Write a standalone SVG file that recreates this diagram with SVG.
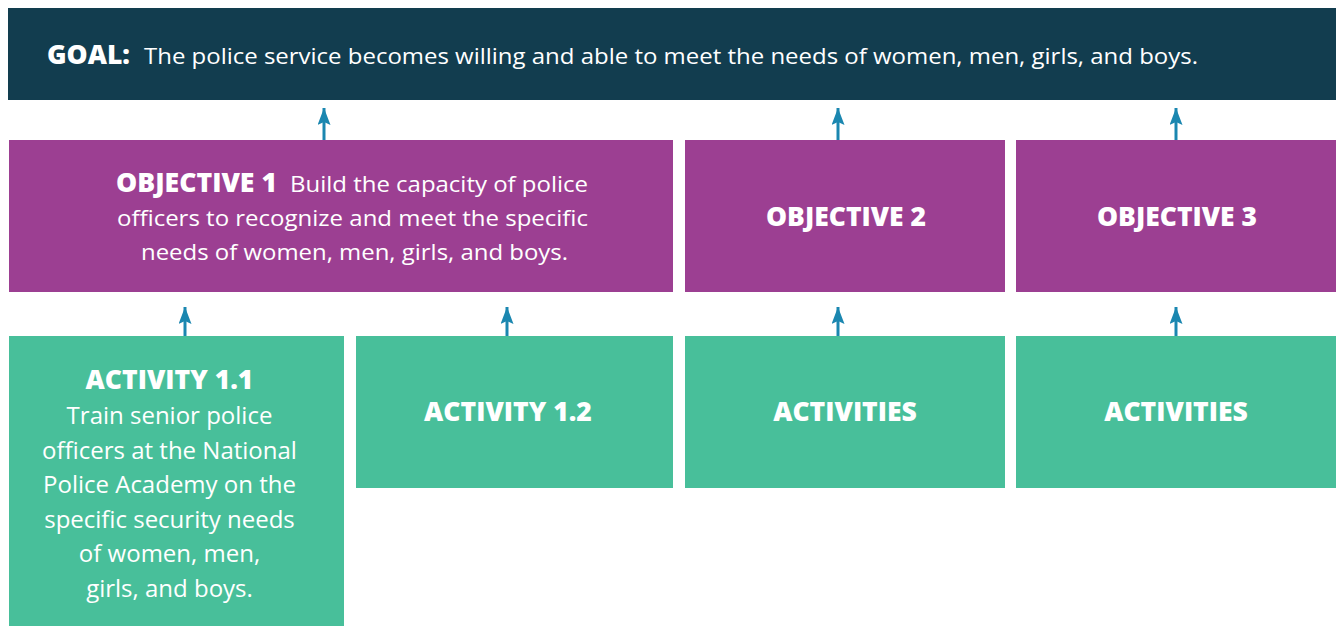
<svg xmlns="http://www.w3.org/2000/svg" width="1337" height="626" viewBox="0 0 1337 626">
<defs>
<marker id="ah" viewBox="0 0 17 13" refX="17" refY="6.5" markerWidth="17" markerHeight="13" markerUnits="userSpaceOnUse" orient="auto">
<path d="M17 6.5 L0 0 L3 6.5 L0 13 Z" fill="#1B87B0"/>
</marker>
<style>
text{font-family:"Open Sans","Liberation Sans",sans-serif;fill:#fff}
.goal{fill:#123D4F}
.obj{fill:#9C3F92}
.act{fill:#48BF9A}
.r{font-weight:400;font-size:22.5px}
.ra{font-weight:400;font-size:24px}
.h{font-size:27px;font-weight:800}
.ha{font-size:26.5px;font-weight:800}
.c{text-anchor:middle}
.arr{stroke:#1B87B0;stroke-width:3;fill:none}
</style>
</defs>
<rect width="1337" height="626" fill="#fff"/>
<g id="goal">
<rect class="goal" x="8" y="8" width="1328" height="92"/>
<text x="47" y="64"><tspan class="h" textLength="83" lengthAdjust="spacingAndGlyphs">GOAL:</tspan><tspan class="r" x="144" textLength="1054" lengthAdjust="spacingAndGlyphs">The police service becomes willing and able to meet the needs of women, men, girls, and boys.</tspan></text>
</g>
<g id="objective1">
<rect class="obj" x="9" y="140" width="664" height="152"/>
<text x="116" y="192"><tspan class="h" textLength="161" lengthAdjust="spacingAndGlyphs">OBJECTIVE 1</tspan><tspan class="r" x="290" textLength="298" lengthAdjust="spacingAndGlyphs">Build the capacity of police</tspan></text>
<text class="r" x="117" y="226" textLength="471" lengthAdjust="spacingAndGlyphs">officers to recognize and meet the specific</text>
<text class="r" x="141" y="260" textLength="427" lengthAdjust="spacingAndGlyphs">needs of women, men, girls, and boys.</text>
</g>
<g id="objective2">
<rect class="obj" x="685" y="140" width="320" height="152"/>
<text class="h" x="766" y="226" textLength="160" lengthAdjust="spacingAndGlyphs">OBJECTIVE 2</text>
</g>
<g id="objective3">
<rect class="obj" x="1016" y="140" width="320" height="152"/>
<text class="h" x="1097" y="226" textLength="160" lengthAdjust="spacingAndGlyphs">OBJECTIVE 3</text>
</g>
<g id="activity11">
<rect class="act" x="9" y="336" width="335" height="290"/>
<text class="ha c" x="169.5" y="389">ACTIVITY 1.1</text>
<text class="ra c" x="169.5" y="424">Train senior police</text>
<text class="ra c" x="169.5" y="459">officers at the National</text>
<text class="ra c" x="169.5" y="493">Police Academy on the</text>
<text class="ra c" x="169.5" y="528">specific security needs</text>
<text class="ra c" x="169.5" y="562">of women, men,</text>
<text class="ra c" x="169.5" y="597">girls, and boys.</text>
</g>
<g id="activity12">
<rect class="act" x="356" y="336" width="317" height="152"/>
<text class="ha c" x="508" y="421">ACTIVITY 1.2</text>
</g>
<g id="activities2">
<rect class="act" x="685" y="336" width="320" height="152"/>
<text class="ha c" x="845" y="421">ACTIVITIES</text>
</g>
<g id="activities3">
<rect class="act" x="1016" y="336" width="320" height="152"/>
<text class="ha c" x="1176" y="421">ACTIVITIES</text>
</g>
<g id="connectors">
<line class="arr" x1="324" y1="140" x2="324" y2="108" marker-end="url(#ah)"/>
<line class="arr" x1="838" y1="140" x2="838" y2="108" marker-end="url(#ah)"/>
<line class="arr" x1="1176" y1="140" x2="1176" y2="108" marker-end="url(#ah)"/>
<line class="arr" x1="185" y1="336" x2="185" y2="307" marker-end="url(#ah)"/>
<line class="arr" x1="507" y1="336" x2="507" y2="307" marker-end="url(#ah)"/>
<line class="arr" x1="838" y1="336" x2="838" y2="307" marker-end="url(#ah)"/>
<line class="arr" x1="1176" y1="336" x2="1176" y2="307" marker-end="url(#ah)"/>
</g>
</svg>
